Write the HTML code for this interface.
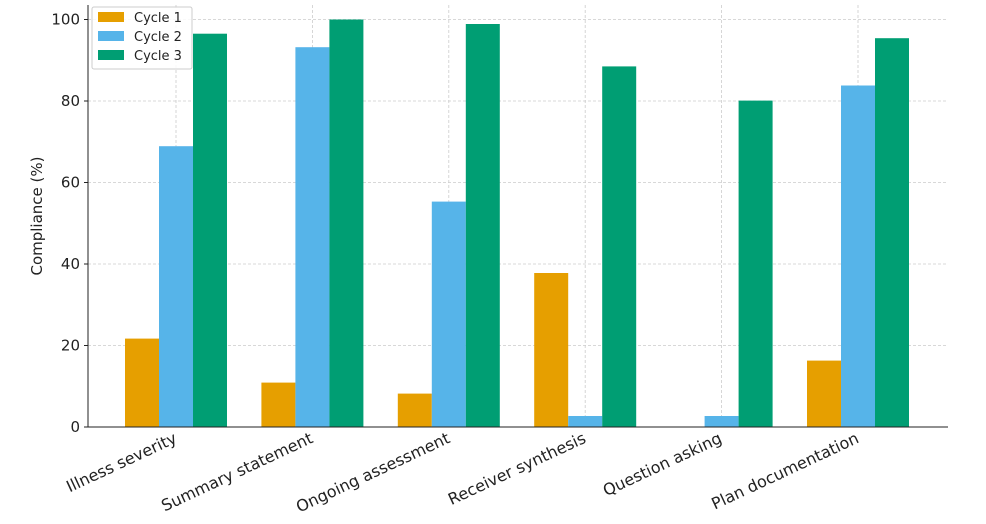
<!DOCTYPE html>
<html><head><meta charset="utf-8"><style>
body{margin:0;background:#fff;}
svg text{font-family:"DejaVu Sans","Liberation Sans",sans-serif;fill:#222;}
</style></head><body>
<svg width="986" height="519" viewBox="0 0 986 519" xmlns="http://www.w3.org/2000/svg">
<rect width="986" height="519" fill="#fff"/>
<g stroke="#cccccc" stroke-width="0.8" stroke-dasharray="3,2">
<line x1="88" x2="948" y1="345.5" y2="345.5"/>
<line x1="88" x2="948" y1="264" y2="264"/>
<line x1="88" x2="948" y1="182.5" y2="182.5"/>
<line x1="88" x2="948" y1="101" y2="101"/>
<line x1="88" x2="948" y1="19.5" y2="19.5"/>
<line x1="176" x2="176" y1="5" y2="427"/>
<line x1="312.4" x2="312.4" y1="5" y2="427"/>
<line x1="448.8" x2="448.8" y1="5" y2="427"/>
<line x1="585.2" x2="585.2" y1="5" y2="427"/>
<line x1="721.6" x2="721.6" y1="5" y2="427"/>
<line x1="858" x2="858" y1="5" y2="427"/>
</g>
<g>
<rect x="125" y="338.6" width="34" height="88.4" fill="#E69F00"/>
<rect x="159" y="146.2" width="34" height="280.8" fill="#56B4E9"/>
<rect x="193" y="33.7" width="34" height="393.3" fill="#009E73"/>
<rect x="261.4" y="382.6" width="34" height="44.4" fill="#E69F00"/>
<rect x="295.4" y="47.2" width="34" height="379.8" fill="#56B4E9"/>
<rect x="329.4" y="19.5" width="34" height="407.5" fill="#009E73"/>
<rect x="397.8" y="393.6" width="34" height="33.4" fill="#E69F00"/>
<rect x="431.8" y="201.6" width="34" height="225.4" fill="#56B4E9"/>
<rect x="465.8" y="24" width="34" height="403" fill="#009E73"/>
<rect x="534.2" y="273" width="34" height="154" fill="#E69F00"/>
<rect x="568.2" y="416" width="34" height="11" fill="#56B4E9"/>
<rect x="602.2" y="66.4" width="34" height="360.6" fill="#009E73"/>
<rect x="704.6" y="416" width="34" height="11" fill="#56B4E9"/>
<rect x="738.6" y="100.6" width="34" height="326.4" fill="#009E73"/>
<rect x="807" y="360.6" width="34" height="66.4" fill="#E69F00"/>
<rect x="841" y="85.5" width="34" height="341.5" fill="#56B4E9"/>
<rect x="875" y="38.2" width="34" height="388.8" fill="#009E73"/>
</g>
<line x1="88" x2="948" y1="427" y2="427" stroke="#222" stroke-width="1"/>
<line x1="88" x2="88" y1="5" y2="427" stroke="#222" stroke-width="1"/>
<g font-size="15" text-anchor="end">
<text x="80" y="432">0</text>
<text x="80" y="350.5">20</text>
<text x="80" y="269">40</text>
<text x="80" y="187.5">60</text>
<text x="80" y="106">80</text>
<text x="80" y="24.5">100</text>
</g>
<g stroke="#222"><line x1="84" x2="88" y1="427" y2="427"/><line x1="84" x2="88" y1="345.5" y2="345.5"/><line x1="84" x2="88" y1="264" y2="264"/><line x1="84" x2="88" y1="182.5" y2="182.5"/><line x1="84" x2="88" y1="101" y2="101"/><line x1="84" x2="88" y1="19.5" y2="19.5"/></g>
<text x="42" y="216" font-size="15" text-anchor="middle" transform="rotate(-90 42 216)">Compliance (%)</text>
<g font-size="16" text-anchor="end">
<text transform="translate(178,442) rotate(-25)">Illness severity</text>
<text transform="translate(314,442) rotate(-25)">Summary statement</text>
<text transform="translate(451,442) rotate(-25)">Ongoing assessment</text>
<text transform="translate(587,442) rotate(-25)">Receiver synthesis</text>
<text transform="translate(723,442) rotate(-25)">Question asking</text>
<text transform="translate(860,442) rotate(-25)">Plan documentation</text>
</g>
<rect x="92" y="7" width="100" height="62" fill="#fff" fill-opacity="0.85" stroke="#ccc" rx="2"/>
<rect x="98" y="12" width="26" height="10" fill="#E69F00"/>
<rect x="98" y="31" width="26" height="10" fill="#56B4E9"/>
<rect x="98" y="50" width="26" height="10" fill="#009E73"/>
<g font-size="13"><text x="134" y="22">Cycle 1</text><text x="134" y="41">Cycle 2</text><text x="134" y="60">Cycle 3</text></g>
</svg>
</body></html>
